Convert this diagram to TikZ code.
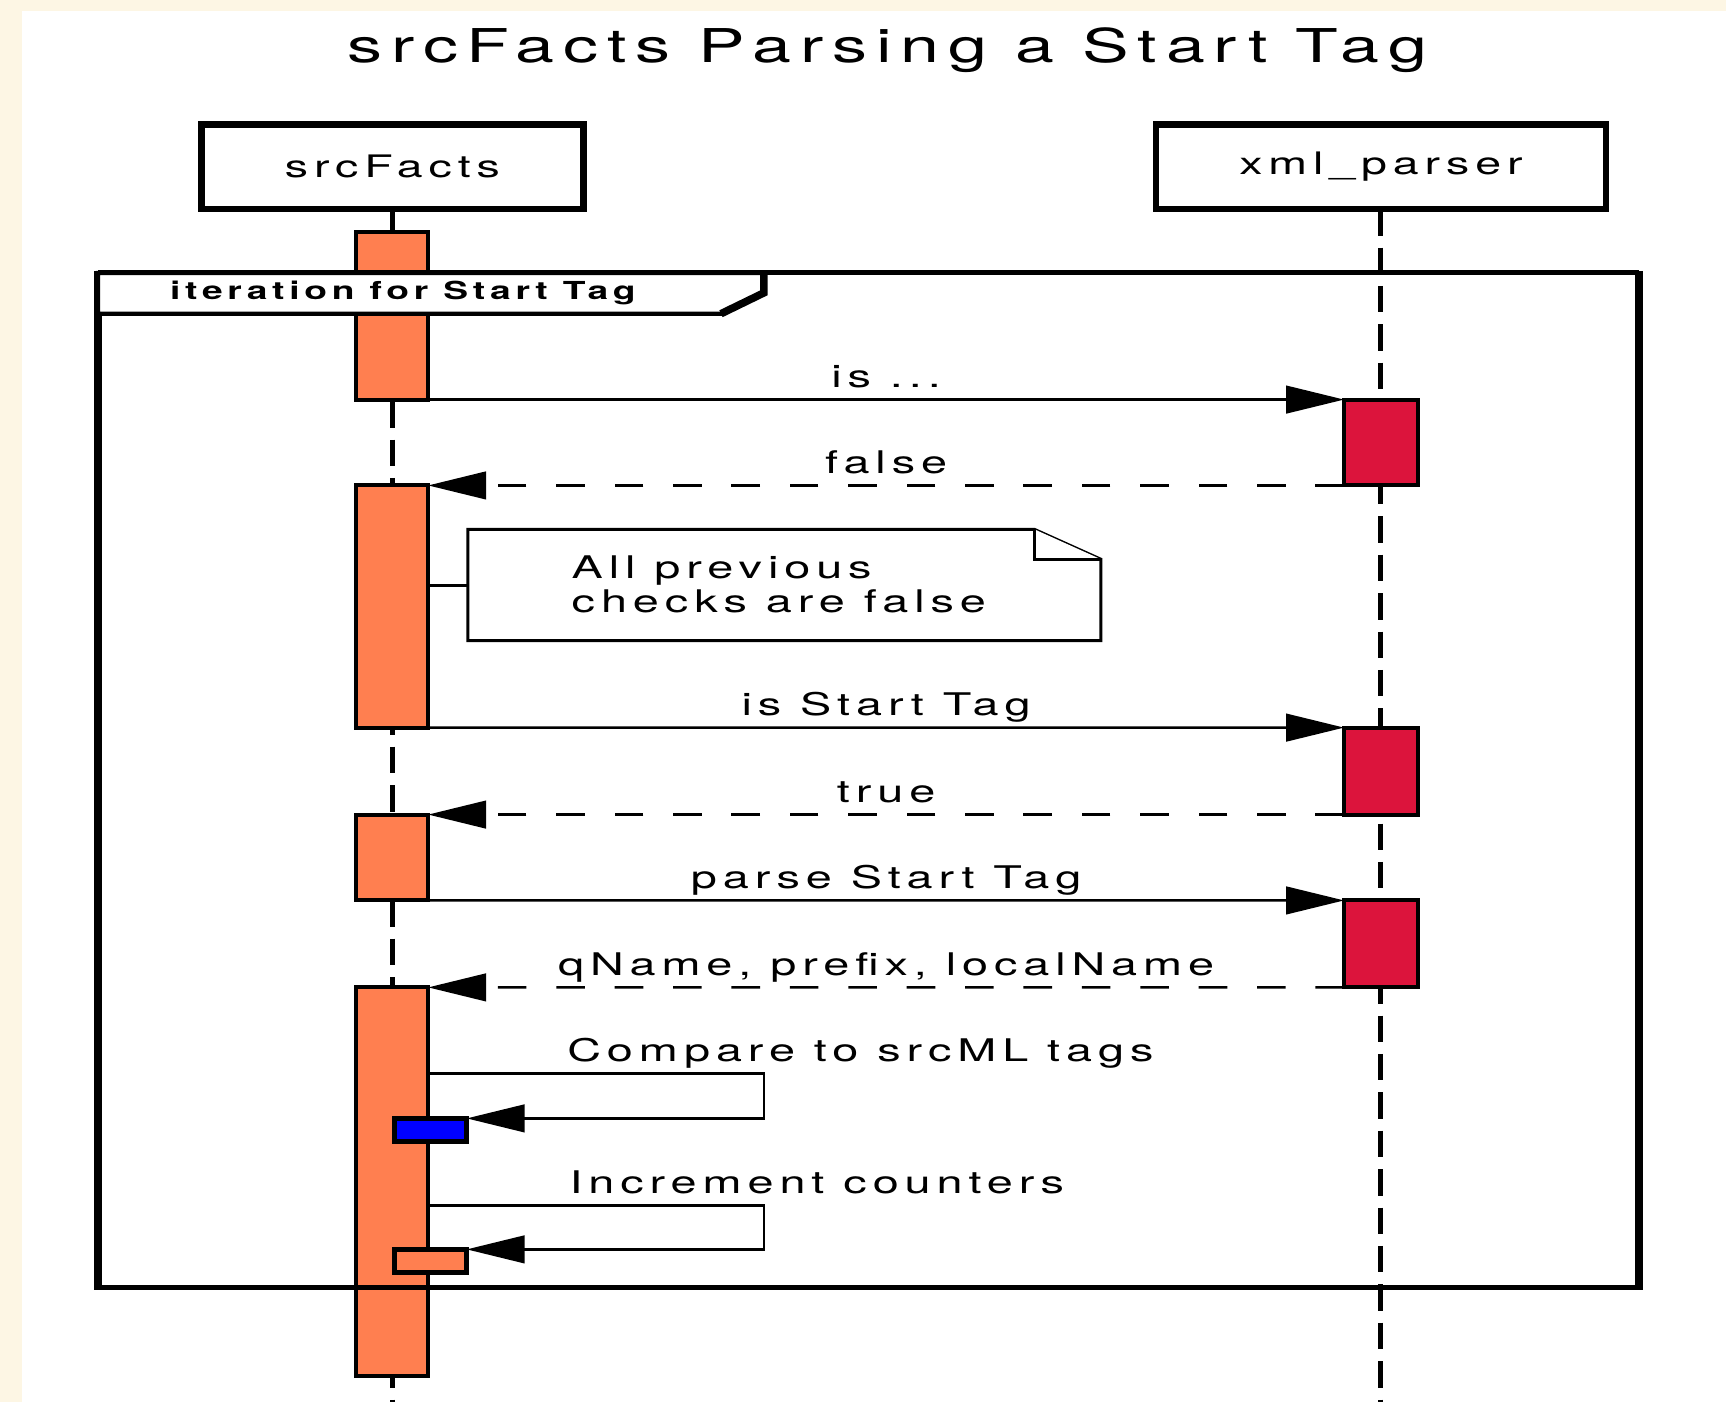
\documentclass[tikz,border=0pt]{standalone}
\usepackage{fontspec}
\setmainfont{TeX Gyre Heros}[FakeStretch=1.5,LetterSpace=19]
\usetikzlibrary{arrows.meta,calc,positioning,fit}
\definecolor{cream}{RGB}{253,246,228}
\definecolor{coral}{RGB}{255,127,80}
\definecolor{crimson}{RGB}{220,20,60}
\tikzset{
	part/.style={draw, fill=white, line width=3.3pt, inner sep=0pt, outer sep=0pt, font=\fontsize{15.5}{18}\selectfont},
	lifeline/.style={line width=2.5pt, dash pattern=on 13.2pt off 6pt},
	act/.style={draw, fill=coral, line width=2pt, inner sep=0pt, outer sep=0pt},
	ret act/.style={act, fill=crimson},
	call/.style={line width=1.3pt, -{Triangle[length=29pt,width=13.8pt]}},
	reply/.style={call, dash pattern=on 14.3pt off 14.9pt},
	msg/.style={anchor=base, yshift=6pt, inner sep=0pt, font=\fontsize{15.6}{17}\selectfont},
	notebox/.style={draw, fill=white, line width=1.5pt},
	framelbl/.style={inner sep=0pt, font=\fontsize{12.4}{14}\selectfont\bfseries}
}
\begin{document}
\begin{tikzpicture}[x=0.5504pt,y=-0.5504pt]
\useasboundingbox (0,0) rectangle (1568,1274);
\fill[cream] (0,0) rectangle (1568,1274);
\fill[white] (20,10) rectangle (1568,1274);
\node[inner sep=0pt, font=\fontsize{23.3}{28}\selectfont] (title) at (806,46) {srcFacts Parsing a Start Tag};
% lifelines
\coordinate (e1) at (356.5,1274);
\coordinate (e2) at (1254.5,1274);
\node[part, fit={(183,113)(530,190)}] (p1) {};
\node[part, fit={(1050,113)(1459,190)}] (p2) {};
\draw[lifeline] (p1.south) -- (e1);
\draw[lifeline] (p2.south) -- (e2);
\node[part, draw=none, fill=none] (l1) at (p1.center) {srcFacts};
\node[part, draw=none, fill=none] (l2) at (p2.center) {xml\_parser};
% activations
\node[act, fit={(323,211)(389,363)}] (a1) {};
\node[act, fit={(323,441)(389,661)}] (a2) {};
\node[act, fit={(323,740)(389,818)}] (a3) {};
\node[act, fit={(323,897)(389,1250)}] (a4) {};
\node[ret act, fit={(1221,363)(1288,441)}] (b1) {};
\node[ret act, fit={(1221,661)(1288,740)}] (b2) {};
\node[ret act, fit={(1221,818)(1288,897)}] (b3) {};
% messages
\draw[call] (a1.south east) -- node[msg] (m1) {is ...} (b1.north west);
\draw[reply] (b1.south west) -- node[msg] (m2) {false} (a2.north east);
\draw[call] (a2.south east) -- node[msg] (m3) {is Start Tag} (b2.north west);
\draw[reply] (b2.south west) -- node[msg] (m4) {true} (a3.north east);
\draw[call] (a3.south east) -- node[msg] (m5) {parse Start Tag} (b3.north west);
\draw[reply] (b3.south west) -- node[msg] (m6) {qName, prefix, localName} (a4.north east);
% note
\node[fit={(425,481)(1000,582)}, inner sep=0pt, outer sep=0pt] (nt) {};
\draw[line width=1.5pt] (a2.east |- nt.west) -- (nt.west);
\draw[notebox] (nt.north west) -- ($(nt.north east)+(-60,0)$) -- ($(nt.north east)+(0,27)$) -- (nt.south east) -- (nt.south west) -- cycle;
\draw[notebox] ($(nt.north east)+(-60,0)$) |- ($(nt.north east)+(0,27)$);
\node[msg, yshift=-6pt, anchor=west, align=left] (ntx) at (519,531) {All previous\\checks are false};
% self calls
\node[act, fill=blue, line width=2.5pt, fit={(358,1016)(424,1037)}] (n1) {};
\node[act, line width=2.5pt, fit={(358,1135)(424,1156)}] (n2) {};
\draw[call] ($(a4.north east)+(0,78)$) coordinate (s1) -| ($(n1.north east)+(270,0)$) -- (n1.north east);
\draw[call] ($(a4.north east)+(0,198)$) coordinate (s2) -| ($(n2.north east)+(270,0)$) -- (n2.north east);
\node[msg, anchor=base west] (m7) at ($(s1)+(126,0)$) {Compare to srcML tags};
\node[msg, anchor=base west] (m8) at ($(s2)+(128,0)$) {Increment counters};
% loop frame
\draw[line width=2.5pt] (89,248) -- (1489,248) (89,1170) -- (1489,1170);
\draw[line width=4.4pt] (89,246) -- (89,1172) (1489,246) -- (1489,1172);
\draw[fill=white, line width=2.2pt] (89,248) -- (694,248) -- (694,266) -- (655,285) -- (89,285) -- cycle;
\draw[line width=3.8pt] (694,248) -- (694,266) -- (655,285);
\node[framelbl] (fl) at (366,266) {iteration for Start Tag};
\end{tikzpicture}
\end{document}
